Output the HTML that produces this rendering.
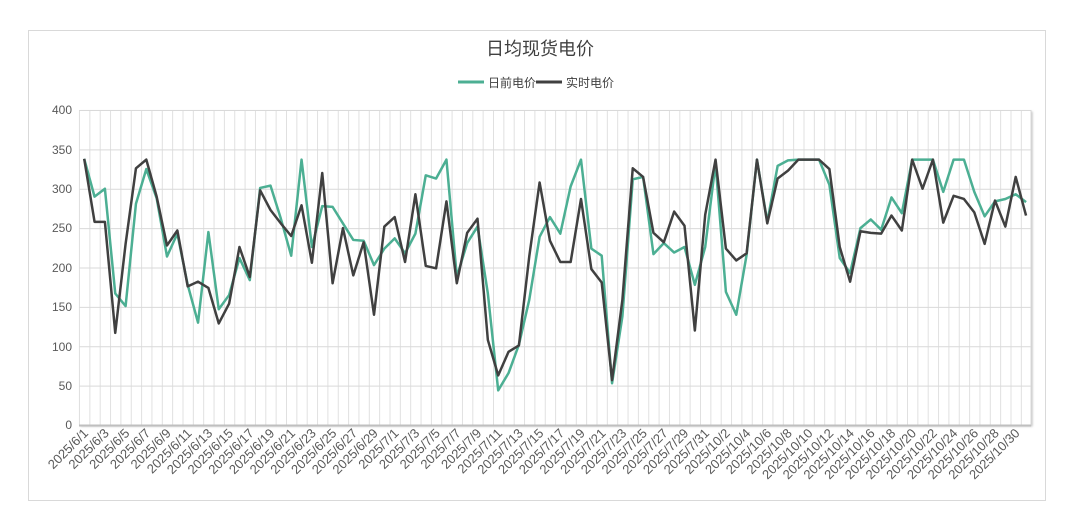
<!DOCTYPE html>
<html><head><meta charset="utf-8"><style>
html,body{margin:0;padding:0;background:#fff;width:1080px;height:523px;overflow:hidden}
svg{display:block;font-family:"Liberation Sans","Noto Sans CJK SC",sans-serif}
</style></head><body>
<svg width="1080" height="523" viewBox="0 0 1080 523" xmlns="http://www.w3.org/2000/svg">
<defs>
<pattern id="vg" x="79" y="0" width="10.35" height="10" patternUnits="userSpaceOnUse">
<line x1="0.5" y1="0" x2="0.5" y2="10" stroke="#e0e0e0" stroke-width="1"/>
</pattern>
<filter id="sh" x="-5%" y="-5%" width="110%" height="110%"><feDropShadow dx="1.5" dy="1.5" stdDeviation="1" flood-color="#000" flood-opacity="0.25"/></filter>
</defs>
<rect x="28.5" y="30.5" width="1017" height="470" fill="#fff" stroke="#d9d9d9"/>
<text x="540" y="55" text-anchor="middle" font-size="18" fill="#404040">日均现货电价</text>
<line x1="458" y1="82" x2="484" y2="82" stroke="#4caf93" stroke-width="3"/>
<text x="488" y="87" font-size="12" fill="#404040">日前电价</text>
<line x1="536" y1="82" x2="562" y2="82" stroke="#404040" stroke-width="3"/>
<text x="566" y="87" font-size="12" fill="#404040">实时电价</text>
<rect x="79" y="110" width="952" height="315" fill="#fff" filter="url(#sh)"/>
<rect x="79" y="110" width="952" height="315" fill="url(#vg)"/>
<g stroke="#d9d9d9" stroke-width="1">
<line x1="79" y1="110.5" x2="1031" y2="110.5"/>
<line x1="79" y1="149.9" x2="1031" y2="149.9"/>
<line x1="79" y1="189.3" x2="1031" y2="189.3"/>
<line x1="79" y1="228.6" x2="1031" y2="228.6"/>
<line x1="79" y1="268" x2="1031" y2="268"/>
<line x1="79" y1="307.4" x2="1031" y2="307.4"/>
<line x1="79" y1="346.8" x2="1031" y2="346.8"/>
<line x1="79" y1="386.1" x2="1031" y2="386.1"/>
<line x1="1031" y1="110" x2="1031" y2="425"/>
</g>
<line x1="79" y1="425.5" x2="1031" y2="425.5" stroke="#bfbfbf" stroke-width="2"/>
<g font-size="12" fill="#595959" text-anchor="end">
<text x="72" y="114">400</text><text x="72" y="154">350</text><text x="72" y="193">300</text><text x="72" y="232">250</text><text x="72" y="272">200</text><text x="72" y="311">150</text><text x="72" y="351">100</text><text x="72" y="390">50</text><text x="72" y="429">0</text>
</g>
<g transform="translate(84.2,425) scale(10.35,-0.7875)" fill="none" stroke-linejoin="round">
<polyline vector-effect="non-scaling-stroke" stroke="#4caf93" stroke-width="2.5" points="0,338 1,290 2,300 3,167 4,151 5,281 6,325 7,288 8,214 9,243 10,178 11,130 12,245 13,147 14,165 15,212 16,184 17,301 18,304 19,262 20,215 21,337 22,226 23,278 24,277 25,256 26,235 27,234 28,203 29,224 30,237 31,218 32,243 33,317 34,313 35,337 36,188 37,231 38,252 39,167 40,44 41,66 42,102 43,159 44,239 45,264 46,243 47,303 48,337 49,224 50,215 51,53 52,138 53,312 54,315 55,217 56,231 57,219 58,226 59,178 60,226 61,332 62,169 63,140 64,216 65,337 66,258 67,329 68,336 69,337 70,337 71,337 72,305 73,212 74,193 75,250 76,261 77,248 78,289 79,269 80,337 81,337 82,337 83,296 84,337 85,337 86,296 87,265 88,284 89,287 90,293 91,283"/>
<polyline vector-effect="non-scaling-stroke" stroke="#404040" stroke-width="2.5" points="0,338 1,258 2,258 3,117 4,230 5,326 6,337 7,290 8,228 9,247 10,176 11,182 12,174 13,129 14,154 15,226 16,188 17,298 18,273 19,256 20,240 21,279 22,206 23,320 24,180 25,250 26,190 27,232 28,140 29,252 30,264 31,207 32,293 33,202 34,199 35,284 36,180 37,244 38,262 39,108 40,63 41,93 42,101 43,214 44,308 45,234 46,207 47,207 48,287 49,198 50,181 51,57 52,159 53,326 54,315 55,244 56,232 57,271 58,253 59,120 60,267 61,337 62,224 63,209 64,218 65,337 66,256 67,313 68,323 69,337 70,337 71,337 72,325 73,226 74,182 75,246 76,244 77,243 78,266 79,247 80,337 81,300 82,337 83,257 84,291 85,287 86,270 87,230 88,285 89,252 90,315 91,266"/>
</g>
<g font-size="13" fill="#595959" text-anchor="end">
<text transform="translate(89,434) rotate(-45)">2025/6/1</text>
<text transform="translate(109.7,434) rotate(-45)">2025/6/3</text>
<text transform="translate(130.4,434) rotate(-45)">2025/6/5</text>
<text transform="translate(151.1,434) rotate(-45)">2025/6/7</text>
<text transform="translate(171.8,434) rotate(-45)">2025/6/9</text>
<text transform="translate(192.5,434) rotate(-45)">2025/6/11</text>
<text transform="translate(213.2,434) rotate(-45)">2025/6/13</text>
<text transform="translate(233.9,434) rotate(-45)">2025/6/15</text>
<text transform="translate(254.6,434) rotate(-45)">2025/6/17</text>
<text transform="translate(275.3,434) rotate(-45)">2025/6/19</text>
<text transform="translate(296,434) rotate(-45)">2025/6/21</text>
<text transform="translate(316.7,434) rotate(-45)">2025/6/23</text>
<text transform="translate(337.4,434) rotate(-45)">2025/6/25</text>
<text transform="translate(358.1,434) rotate(-45)">2025/6/27</text>
<text transform="translate(378.8,434) rotate(-45)">2025/6/29</text>
<text transform="translate(399.5,434) rotate(-45)">2025/7/1</text>
<text transform="translate(420.2,434) rotate(-45)">2025/7/3</text>
<text transform="translate(440.9,434) rotate(-45)">2025/7/5</text>
<text transform="translate(461.6,434) rotate(-45)">2025/7/7</text>
<text transform="translate(482.3,434) rotate(-45)">2025/7/9</text>
<text transform="translate(503,434) rotate(-45)">2025/7/11</text>
<text transform="translate(523.7,434) rotate(-45)">2025/7/13</text>
<text transform="translate(544.4,434) rotate(-45)">2025/7/15</text>
<text transform="translate(565.1,434) rotate(-45)">2025/7/17</text>
<text transform="translate(585.8,434) rotate(-45)">2025/7/19</text>
<text transform="translate(606.5,434) rotate(-45)">2025/7/21</text>
<text transform="translate(627.2,434) rotate(-45)">2025/7/23</text>
<text transform="translate(647.9,434) rotate(-45)">2025/7/25</text>
<text transform="translate(668.6,434) rotate(-45)">2025/7/27</text>
<text transform="translate(689.3,434) rotate(-45)">2025/7/29</text>
<text transform="translate(710,434) rotate(-45)">2025/7/31</text>
<text transform="translate(730.7,434) rotate(-45)">2025/10/2</text>
<text transform="translate(751.4,434) rotate(-45)">2025/10/4</text>
<text transform="translate(772.1,434) rotate(-45)">2025/10/6</text>
<text transform="translate(792.8,434) rotate(-45)">2025/10/8</text>
<text transform="translate(813.5,434) rotate(-45)">2025/10/10</text>
<text transform="translate(834.2,434) rotate(-45)">2025/10/12</text>
<text transform="translate(854.9,434) rotate(-45)">2025/10/14</text>
<text transform="translate(875.6,434) rotate(-45)">2025/10/16</text>
<text transform="translate(896.3,434) rotate(-45)">2025/10/18</text>
<text transform="translate(917,434) rotate(-45)">2025/10/20</text>
<text transform="translate(937.7,434) rotate(-45)">2025/10/22</text>
<text transform="translate(958.4,434) rotate(-45)">2025/10/24</text>
<text transform="translate(979.1,434) rotate(-45)">2025/10/26</text>
<text transform="translate(999.8,434) rotate(-45)">2025/10/28</text>
<text transform="translate(1020.5,434) rotate(-45)">2025/10/30</text>
</g>
</svg>
</body></html>
